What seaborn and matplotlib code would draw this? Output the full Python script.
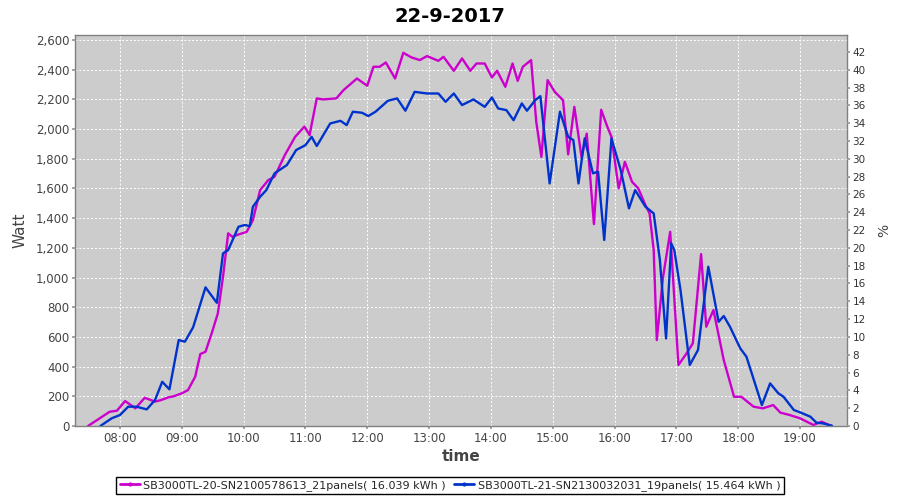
import pandas as pd
import seaborn as sns
import matplotlib.pyplot as plt
from matplotlib.lines import Line2D
from matplotlib.ticker import FuncFormatter

sns.set_theme(style="darkgrid", rc={
    'axes.facecolor': '#cccccc',
    'grid.color': 'white',
    'grid.linestyle': (0, (2, 2)),
    'grid.linewidth': 0.7,
})
plt.rcParams['font.family'] = ['DejaVu Sans']

title = "22-9-2017"
names = ['SB3000TL-20-SN2100578613_21panels( 16.039 kWh )',
         'SB3000TL-21-SN2130032031_19panels( 15.464 kWh )']
palette = {names[0]: '#cc00cc', names[1]: '#0033cc'}

# SB3000TL-20 (magenta)
t20 = ['07:29', '07:50', '07:57', '08:05', '08:15', '08:24', '08:34', '08:40', '08:47',
       '08:52', '09:00', '09:06', '09:13', '09:18', '09:23', '09:29', '09:35', '09:40',
       '09:45', '09:49', '09:55', '10:03', '10:09', '10:16', '10:24', '10:30', '10:40',
       '10:50', '10:59', '11:04', '11:11', '11:17', '11:30', '11:37', '11:50', '12:00',
       '12:06', '12:12', '12:18', '12:27', '12:35', '12:43', '12:51', '12:58', '13:09',
       '13:14', '13:24', '13:32', '13:40', '13:46', '13:54', '14:01', '14:06', '14:14',
       '14:21', '14:26', '14:31', '14:39', '14:44', '14:49', '14:55', '15:02', '15:10',
       '15:15', '15:21', '15:28', '15:33', '15:40', '15:47', '15:53', '15:57', '16:04',
       '16:10', '16:17', '16:23', '16:30', '16:34', '16:38', '16:41', '16:47', '16:54',
       '17:02', '17:10', '17:16', '17:24', '17:29', '17:36', '17:46', '17:56', '18:03',
       '18:15', '18:24', '18:34', '18:41', '18:50', '19:00', '19:13', '19:21', '19:28',
       '19:31']
w20 = [0, 96, 103, 168, 119, 190, 164, 175, 193,
       200, 220, 242, 332, 485, 500, 624, 759, 1005,
       1298, 1275, 1290, 1308, 1387, 1589, 1657, 1679, 1825,
       1948, 2017, 1960, 2207, 2200, 2207, 2263, 2341, 2292,
       2420, 2420, 2449, 2341, 2514, 2483, 2465, 2492, 2460,
       2487, 2393, 2476, 2393, 2442, 2442, 2348, 2393, 2285,
       2442, 2325, 2420, 2465, 2050, 1813, 2330, 2251, 2195,
       1830, 2150, 1810, 1970, 1360, 2130, 2016, 1948, 1601,
       1780, 1645, 1601, 1488, 1432, 1185, 579, 1000, 1308,
       411, 490, 557, 1158, 669, 781, 444, 197, 197,
       130, 119, 141, 90, 74, 52, 7, 29, 7,
       0]

# SB3000TL-21 (blue)
t21 = ['07:41', '07:52', '08:00', '08:08', '08:16', '08:26', '08:34', '08:41', '08:48',
       '08:57', '09:03', '09:11', '09:23', '09:34', '09:40', '09:45', '09:55', '10:01',
       '10:06', '10:09', '10:16', '10:22', '10:30', '10:42', '10:51', '11:00', '11:06',
       '11:11', '11:24', '11:34', '11:40', '11:46', '11:55', '12:01', '12:08', '12:20',
       '12:29', '12:37', '12:46', '12:58', '13:09', '13:16', '13:24', '13:32', '13:43',
       '13:54', '14:01', '14:07', '14:15', '14:22', '14:30', '14:35', '14:43', '14:48',
       '14:57', '15:07', '15:15', '15:20', '15:25', '15:31', '15:39', '15:44', '15:50',
       '15:57', '16:06', '16:14', '16:20', '16:30', '16:38', '16:44', '16:50', '16:55',
       '16:58', '17:04', '17:13', '17:21', '17:31', '17:41', '17:46', '17:52', '18:02',
       '18:08', '18:23', '18:31', '18:39', '18:44', '18:54', '19:00', '19:10', '19:16',
       '19:22', '19:31']
w21 = [0, 52, 74, 130, 130, 112, 175, 298, 247,
       579, 568, 665, 934, 830, 1163, 1185, 1342, 1354,
       1347, 1477, 1544, 1589, 1702, 1758, 1859, 1892, 1948,
       1886, 2038, 2056, 2027, 2117, 2110, 2088, 2117, 2191,
       2207, 2124, 2251, 2240, 2240, 2184, 2240, 2162, 2200,
       2150, 2213, 2139, 2128, 2060, 2173, 2124, 2195, 2222,
       1634, 2117, 1948, 1926, 1634, 1937, 1702, 1713, 1253,
       1937, 1724, 1466, 1589, 1477, 1432, 1118, 590, 1230,
       1185, 916, 411, 512, 1073, 702, 741, 669, 523,
       467, 141, 287, 220, 197, 108, 92, 63, 22,
       18, 2]

hours = list(range(8, 20))


def to_hours(ts):
    return [int(s[:2]) + int(s[3:]) / 60 for s in ts]


df = pd.concat([
    pd.DataFrame({'hour': to_hours(t20), 'watt': w20, 'inverter': names[0]}),
    pd.DataFrame({'hour': to_hours(t21), 'watt': w21, 'inverter': names[1]}),
])

fig = plt.figure(figsize=(9, 5), dpi=100)
ax = fig.add_axes([0.0833, 0.148, 0.8578, 0.782])
sns.lineplot(data=df, x='hour', y='watt', hue='inverter', palette=palette,
             linewidth=1.7, legend=False, sort=False, ax=ax)
for ln in ax.lines:
    ln.set_solid_joinstyle('round')

ymax = 2634
ax.set_xlim(7.272, 19.76)
ax.set_ylim(0, ymax)
ax.set_xticks(hours)
ax.xaxis.set_major_formatter(FuncFormatter(lambda v, p: f"{int(round(v)):02d}:00"))
ax.set_yticks(range(0, 2601, 200))
ax.yaxis.set_major_formatter(FuncFormatter(lambda v, p: f"{int(v):,}"))
ax.tick_params(axis='both', labelsize=8.5, labelcolor='#444444', length=2,
               color='#999999', pad=2, left=True, bottom=True)
ax.set_xlabel('time', fontsize=11, fontweight='bold', color='#444444', labelpad=3)
ax.set_ylabel('Watt', fontsize=11, color='#444444', labelpad=6)
for s in ax.spines.values():
    s.set_visible(True)
    s.set_color('#808080')
    s.set_linewidth(1)

ax2 = ax.twinx()
ax2.set_ylim(0, ymax / 60)
ax2.set_yticks(range(0, 43, 2))
ax2.grid(False)
ax2.tick_params(axis='y', labelsize=7.5, labelcolor='#333333', length=2,
                color='#999999', pad=2, right=True)
ax2.set_ylabel('%', fontsize=10, color='#444444', labelpad=8)
for s in ax2.spines.values():
    s.set_visible(False)

fig.suptitle(title, x=0.5, y=0.985, fontsize=14, fontweight='bold', color='black')

handles = [Line2D([0], [0], color=palette[n], lw=2, marker='.', markersize=4) for n in names]
fig.legend(handles, names, loc='lower center', bbox_to_anchor=(0.5, 0.0), ncol=2,
           frameon=True, fancybox=False, edgecolor='black', fontsize=8,
           handlelength=1.8, handletextpad=0.3, columnspacing=0.8, borderpad=0.3,
           facecolor='white', framealpha=1)

fig.savefig('out.png', dpi=100)
